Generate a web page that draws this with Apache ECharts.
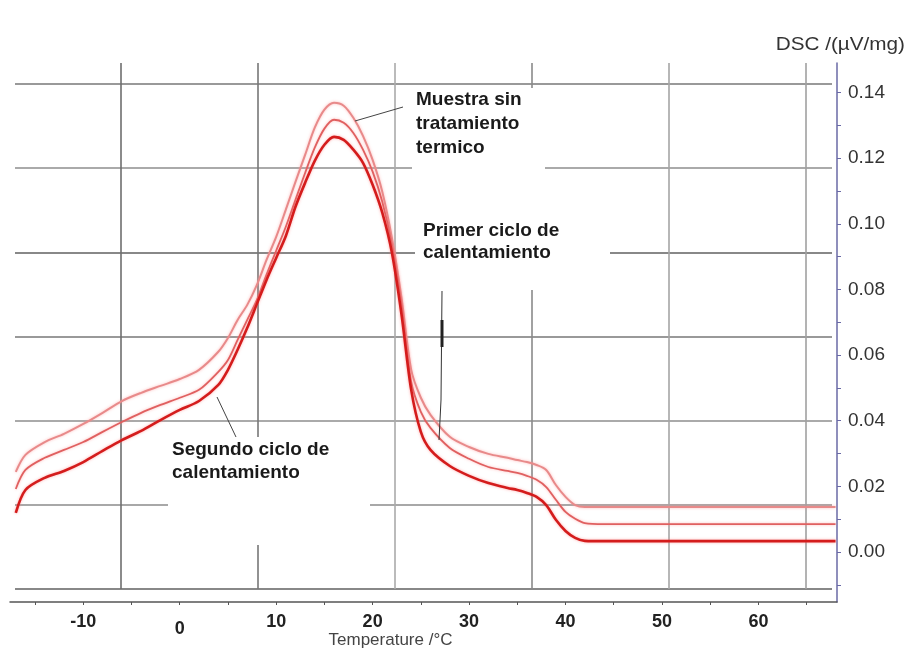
<!DOCTYPE html>
<html>
<head>
<meta charset="utf-8">
<script src="https://cdn.jsdelivr.net/npm/echarts@6/dist/echarts.min.js"></script>
<style>
html,body{margin:0;padding:0;background:#fff;}
#chart{width:910px;height:651px;}
</style>
</head>
<body>
<div id="chart"></div>
<script>
// Temperatures (°C)
var temps = [-17,-16,-14,-12,-10,-8,-6,-4,-2,0,2,4,5,6,7,8,9,10,11,12,13,14,15,16,17,18,19,20,21,22,23,24,25,26,28,30,32,34,35,36,37,38,39,40,41,42,44,68];
// DSC (µV/mg) – Muestra sin tratamiento termico (top curve)
var dscSinTratamiento = [0.0244,0.0296,0.0335,0.0360,0.0390,0.0424,0.0460,0.0485,0.0506,0.0527,0.0555,0.0610,0.0652,0.0707,0.0753,0.0814,0.0890,0.0960,0.1043,0.1128,0.1210,0.1293,0.1348,0.1369,0.1360,0.1323,0.1268,0.1195,0.1098,0.0957,0.0774,0.0555,0.0470,0.0418,0.0351,0.0320,0.0299,0.0287,0.0280,0.0274,0.0265,0.0250,0.0204,0.0168,0.0143,0.0137,0.0137,0.0137];
// Primer ciclo de calentamiento (middle curve)
var dscPrimerCiclo = [0.0192,0.0250,0.0287,0.0311,0.0335,0.0366,0.0396,0.0424,0.0448,0.0470,0.0494,0.0549,0.0585,0.0646,0.0707,0.0768,0.0845,0.0918,0.0991,0.1073,0.1155,0.1232,0.1290,0.1317,0.1308,0.1277,0.1226,0.1159,0.1067,0.0936,0.0753,0.0518,0.0427,0.0378,0.0317,0.0284,0.0259,0.0247,0.0241,0.0232,0.0220,0.0198,0.0159,0.0122,0.0101,0.0088,0.0085,0.0085];
// Segundo ciclo de calentamiento (bottom curve)
var dscSegundoCiclo = [0.0119,0.0189,0.0226,0.0247,0.0274,0.0308,0.0341,0.0369,0.0402,0.0433,0.0460,0.0509,0.0555,0.0616,0.0683,0.0756,0.0829,0.0896,0.0963,0.1052,0.1125,0.1192,0.1241,0.1265,0.1256,0.1226,0.1186,0.1119,0.1034,0.0912,0.0723,0.0494,0.0366,0.0311,0.0262,0.0232,0.0210,0.0195,0.0189,0.0180,0.0168,0.0143,0.0098,0.0064,0.0043,0.0034,0.0033,0.0033];
// Axis ticks
var xTickValues = [-15,-10,-5,0,5,10,15,20,25,30,35,40,45,50,55,60,65];
var xLabelValues = [-10,0,10,20,30,40,50,60];
var yTickValues = [-0.01,0,0.01,0.02,0.03,0.04,0.05,0.06,0.07,0.08,0.09,0.10,0.11,0.12,0.13,0.14];
var yLabelValues = [0,0.02,0.04,0.06,0.08,0.10,0.12,0.14];

function pairs(vals){ return temps.map(function(t,i){ return [t, vals[i]]; }); }

var chart = echarts.init(document.getElementById('chart'), null, {renderer:'canvas'});
var FONT = '"Liberation Sans", Arial, sans-serif';
var hidden = {show:false};

chart.setOption({
  animation:false,
  backgroundColor:'#ffffff',
  grid:[
    {left:10, right:73, top:63, bottom:49, containLabel:false, outerBoundsMode:'none'},
    {left:121, right:104.5, top:63, bottom:62, containLabel:false, outerBoundsMode:'none'},
    {left:15, right:78, top:84, bottom:62, containLabel:false, outerBoundsMode:'none'}
  ],
  xAxis:[
    {gridIndex:0, type:'value', min:-17.6, max:68.15,
     name:'Temperature /°C', nameLocation:'middle', nameGap:30, nameMoveOverlap:false,
     nameTextStyle:{fontFamily:FONT, fontSize:17, color:'#444', padding:[0,66,0,0]},
     axisLine:{show:true, onZero:false, lineStyle:{color:'#555', width:1.5}},
     axisTick:{show:true, length:3, customValues:xTickValues, lineStyle:{color:'#555'}},
     axisLabel:{customValues:xLabelValues, margin:11, fontFamily:FONT, fontSize:18, fontWeight:'bold', color:'#222',
       formatter:function(v){ return v===0 ? '{z|0}' : '{n|'+v+'}'; },
       rich:{z:{padding:[7,0,0,0], fontFamily:FONT, fontSize:18, fontWeight:'bold', color:'#222'},
             n:{fontFamily:FONT, fontSize:18, fontWeight:'bold', color:'#222'}}},
     splitLine:{show:false}},
    {gridIndex:1, type:'value', min:0, max:5, interval:1,
     axisLine:hidden, axisTick:hidden, axisLabel:hidden,
     splitLine:{show:true, lineStyle:{color:['#6e6e6e','#777','#aaa','#8a8a8a','#a5a5a5','#a0a0a0'], width:1.6}}},
    {gridIndex:2, type:'value', min:0, max:1, show:false}
  ],
  yAxis:[
    {gridIndex:0, type:'value', position:'right', min:-0.01524, max:0.149,
     axisLine:{show:true, onZero:false, lineStyle:{color:'#6a6aa6', width:1.5}},
     axisTick:{show:true, length:4, customValues:yTickValues, lineStyle:{color:'#6a6aa6'}},
     axisLabel:{customValues:yLabelValues, margin:11, fontFamily:FONT, fontSize:19, color:'#333',
       formatter:function(v){ return v.toFixed(2); }},
     splitLine:{show:false}},
    {gridIndex:1, type:'value', min:0, max:1, show:false},
    {gridIndex:2, type:'value', min:0, max:6, interval:1,
     axisLine:hidden, axisTick:hidden, axisLabel:hidden,
     splitLine:{show:true, lineStyle:{color:['#888','#a8a8a8','#aaa','#999','#888','#aaa','#999'], width:2}}}
  ],
  series:[
    {name:'Muestra sin tratamiento termico', type:'line', xAxisIndex:0, yAxisIndex:0, z:3,
     data:pairs(dscSinTratamiento), smooth:0.3, showSymbol:false,
     lineStyle:{color:'#e88a8a', width:2, shadowColor:'rgba(255,140,140,0.6)', shadowBlur:3}},
    {name:'Primer ciclo de calentamiento', type:'line', xAxisIndex:0, yAxisIndex:0, z:4,
     data:pairs(dscPrimerCiclo), smooth:0.3, showSymbol:false,
     lineStyle:{color:'#e06060', width:1.8, shadowColor:'rgba(255,140,140,0.6)', shadowBlur:3}},
    {name:'Segundo ciclo de calentamiento', type:'line', xAxisIndex:0, yAxisIndex:0, z:5,
     data:pairs(dscSegundoCiclo), smooth:0.3, showSymbol:false,
     lineStyle:{color:'#d41c1c', width:2.6, shadowColor:'rgba(255,120,120,0.6)', shadowBlur:3}}
  ],
  graphic:[
    {type:'rect', z:1, silent:true, shape:{x:412, y:88, width:133, height:100}, style:{fill:'#ffffff'}},
    {type:'rect', z:1, silent:true, shape:{x:415, y:188, width:195, height:102}, style:{fill:'#ffffff'}},
    {type:'rect', z:1, silent:true, shape:{x:168, y:437, width:202, height:108}, style:{fill:'#ffffff'}},
    {type:'text', z:10, x:416, y:88, style:{text:'Muestra sin\ntratamiento\ntermico', font:'bold 19px '+FONT, fill:'#1a1a1a', lineHeight:24, align:'left', verticalAlign:'top'}},
    {type:'text', z:10, x:423, y:220, style:{text:'Primer ciclo de\ncalentamiento', font:'bold 19px '+FONT, fill:'#1a1a1a', lineHeight:22, align:'left', verticalAlign:'top'}},
    {type:'text', z:10, x:172, y:438, style:{text:'Segundo ciclo de\ncalentamiento', font:'bold 19px '+FONT, fill:'#1a1a1a', lineHeight:23, align:'left', verticalAlign:'top'}},
    {type:'line', z:10, shape:{x1:355, y1:121, x2:403, y2:107}, style:{stroke:'#444', lineWidth:1}},
    {type:'line', z:10, shape:{x1:217, y1:397, x2:236, y2:437}, style:{stroke:'#444', lineWidth:1}},
    {type:'polyline', z:10, shape:{points:[[442,291],[441,400],[439,440]]}, style:{stroke:'#333', lineWidth:1, fill:null}},
    {type:'line', z:10, shape:{x1:442, y1:320, x2:442, y2:347}, style:{stroke:'#222', lineWidth:3}},
    {type:'text', z:10, x:905, y:45, scaleX:1.15, originX:0, originY:0, style:{text:'DSC /(µV/mg)', font:'18px '+FONT, fill:'#333', align:'right', verticalAlign:'middle'}}
  ]
});
</script>
</body>
</html>
